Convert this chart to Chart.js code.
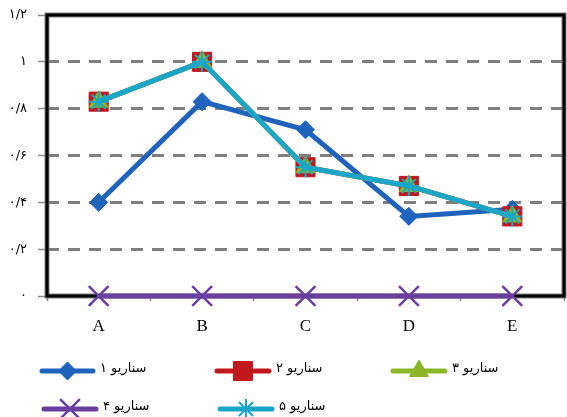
<!DOCTYPE html>
<html>
<head>
<meta charset="utf-8">
<script src="https://cdn.jsdelivr.net/npm/chart.js@4/dist/chart.umd.min.js"></script>
<style>
  html, body { margin: 0; padding: 0; background: #fff; }
  #wrap { width: 567px; height: 417px; }
</style>
</head>
<body>
<div id="wrap"><canvas id="c" width="567" height="417"></canvas></div>
<script>
// Categories along the horizontal axis
const categories = ['A', 'B', 'C', 'D', 'E'];

// Scenario series
const scenario1 = [0.40, 0.83, 0.71, 0.34, 0.37];
const scenario2 = [0.83, 1.00, 0.55, 0.47, 0.34];
const scenario3 = [0.83, 1.00, 0.55, 0.47, 0.34];
const scenario4 = [0, 0, 0, 0, 0];
const scenario5 = [0.83, 1.00, 0.55, 0.47, 0.34];

// Series names
const seriesNames = ['سناریو ۱', 'سناریو ۲', 'سناریو ۳', 'سناریو ۴', 'سناریو ۵'];

// Vertical axis tick labels (Persian digits)
const yTickLabels = ['۰', '۰/۲', '۰/۴', '۰/۶', '۰/۸', '۱', '۱/۲'];

const BLUE = '#1F63BD', RED = '#C0181C', GREEN = '#8CB62A', PURPLE = '#6A3F9F', CYAN = '#19A6C8';

function series(label, data, color, style, radius, pw, order) {
  return {
    label, data, order,
    borderColor: color,
    backgroundColor: color,
    borderWidth: 5,
    pointStyle: style,
    pointRadius: radius,
    pointHoverRadius: radius,
    pointBorderWidth: pw,
    pointBackgroundColor: color,
    pointBorderColor: color,
    tension: 0,
    clip: false
  };
}

const datasets = [
  series(seriesNames[0], scenario1, BLUE, 'rectRot', 9, 1, 4),
  series(seriesNames[1], scenario2, RED, 'rect', 13.5, 1, 3),
  series(seriesNames[2], scenario3, GREEN, 'triangle', 11, 1, 2),
  series(seriesNames[3], scenario4, PURPLE, 'crossRot', 14, 2.5, 1),
  series(seriesNames[4], scenario5, CYAN, 'star', 10, 2, 0)
];

// Double-line frame around the plot area, drawn beneath the series
const framePlugin = {
  id: 'frame',
  beforeDatasetsDraw(chart) {
    const { ctx, chartArea: a } = chart;
    ctx.save();
    ctx.strokeStyle = '#7a7a7a';
    ctx.lineWidth = 5;
    ctx.strokeRect(a.left, a.top, a.right - a.left, a.bottom - a.top);
    ctx.strokeStyle = '#000';
    ctx.lineWidth = 3;
    ctx.strokeRect(a.left, a.top, a.right - a.left, a.bottom - a.top);
    ctx.restore();
  }
};

// Legend: line sample with marker, then the series name
const legendLayout = [
  { x1: 42, x2: 93, y: 371 },
  { x1: 217, x2: 269, y: 371 },
  { x1: 393, x2: 445, y: 371 },
  { x1: 44, x2: 96, y: 409 },
  { x1: 220, x2: 272, y: 409 }
];

const legendPlugin = {
  id: 'sideLegend',
  afterDraw(chart) {
    const { ctx } = chart;
    ctx.save();
    chart.data.datasets.forEach((ds, i) => {
      const p = legendLayout[i];
      ctx.strokeStyle = ds.borderColor;
      ctx.lineWidth = 5;
      ctx.lineCap = 'round';
      ctx.beginPath();
      ctx.moveTo(p.x1, p.y);
      ctx.lineTo(p.x2, p.y);
      ctx.stroke();
      ctx.lineCap = 'butt';
      ctx.fillStyle = ds.pointBackgroundColor;
      ctx.strokeStyle = ds.pointBorderColor;
      ctx.lineWidth = ds.pointBorderWidth;
      Chart.helpers.drawPoint(ctx, {
        pointStyle: ds.pointStyle,
        radius: ds.pointRadius,
        borderWidth: ds.pointBorderWidth,
        rotation: 0
      }, (p.x1 + p.x2) / 2, p.y);
      ctx.fillStyle = '#000';
      ctx.font = "13px 'DejaVu Sans'";
      ctx.direction = 'rtl';
      ctx.textAlign = 'left';
      ctx.textBaseline = 'middle';
      ctx.fillText(ds.label, p.x2 + 7, p.y - 2);
    });
    ctx.restore();
  }
};

new Chart(document.getElementById('c'), {
  type: 'line',
  data: { labels: categories, datasets },
  options: {
    responsive: false,
    animation: false,
    devicePixelRatio: 1,
    layout: { autoPadding: false, padding: { top: 15, right: 3, bottom: 81, left: 0 } },
    plugins: { legend: { display: false }, tooltip: { enabled: false } },
    scales: {
      x: {
        type: 'category',
        offset: true,
        afterFit(scale) { scale.height = 40; },
        grid: {
          offset: true,
          drawOnChartArea: false,
          drawTicks: true,
          tickLength: 5,
          tickColor: '#888',
          tickWidth: 1.5
        },
        border: { display: false },
        ticks: {
          color: '#000',
          padding: 15,
          font: { family: "'Liberation Serif'", size: 17 }
        }
      },
      y: {
        min: 0,
        max: 1.2,
        afterFit(scale) {
          scale.width = 47;
          scale.paddingTop = 0;
          scale.paddingBottom = 0;
        },
        grid: {
          color: '#7f7f7f',
          lineWidth: 3,
          drawTicks: true,
          tickLength: 9,
          tickColor: '#888',
          tickWidth: 1.5
        },
        border: { display: false, dash: [12, 9] },
        ticks: {
          stepSize: 0.2,
          color: '#000',
          padding: 11,
          font: { family: "'DejaVu Sans'", size: 13 },
          callback: (v, i) => yTickLabels[i]
        }
      }
    }
  },
  plugins: [framePlugin, legendPlugin]
});
</script>
</body>
</html>
